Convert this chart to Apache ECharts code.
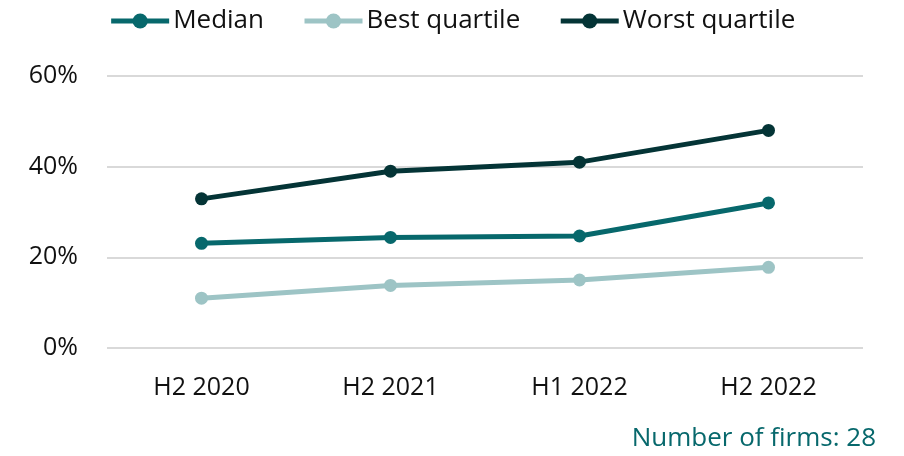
<!DOCTYPE html>
<html>
<head>
<meta charset="utf-8">
<script src="https://cdn.jsdelivr.net/npm/echarts@6/dist/echarts.min.js"></script>
<style>
  html, body { margin: 0; padding: 0; background: #fff; }
  #chart { width: 904px; height: 456px; }
</style>
</head>
<body>
<div id="chart"></div>
<script>
// data
const categories = ['H2 2020', 'H2 2021', 'H1 2022', 'H2 2022'];
const median = [23.1, 24.4, 24.7, 32.0];
const bestQuartile = [11.0, 13.8, 15.0, 17.8];
const worstQuartile = [32.9, 39.0, 41.0, 48.0];
const yTicks = [0, 20, 40, 60];

const font = 'Open Sans, Noto Sans, sans-serif';

function lineSeries(name, data, color) {
    return {
        name: name,
        type: 'line',
        data: data,
        symbol: 'circle',
        symbolSize: 13,
        lineStyle: { width: 5, color: color },
        itemStyle: { color: color },
        emphasis: { disabled: true }
    };
}

const chart = echarts.init(document.getElementById('chart'));
chart.setOption({
    animation: false,
    legend: {
        top: 3,
        left: 'center',
        itemWidth: 58,
        itemHeight: 19,
        itemGap: 38,
        lineStyle: { width: 5 },
        textStyle: { fontFamily: font, fontSize: 26, color: '#111', padding: [0, 0, 0, -1] },
        data: ['Median', 'Best quartile', 'Worst quartile']
    },
    grid: { left: 107, right: 41, top: 76, bottom: 108 },
    xAxis: {
        type: 'category',
        data: categories,
        axisLine: { show: false },
        axisTick: { show: false },
        axisLabel: { fontFamily: font, fontSize: 25, color: '#111', margin: 27 }
    },
    yAxis: {
        type: 'value',
        min: yTicks[0],
        max: yTicks[yTicks.length - 1],
        interval: 20,
        axisLabel: { fontFamily: font, fontSize: 25, color: '#111', margin: 29, formatter: '{value}%' },
        splitLine: { lineStyle: { color: '#d9d9d9', width: 2 } }
    },
    graphic: [{
        type: 'text',
        right: 28,
        top: 426,
        style: { text: 'Number of firms: 28', fontFamily: font, fontSize: 26, fill: '#07686c' }
    }],
    series: [
        lineSeries('Median', median, '#07686c'),
        lineSeries('Best quartile', bestQuartile, '#9dc4c5'),
        lineSeries('Worst quartile', worstQuartile, '#043436')
    ]
});
</script>
</body>
</html>
